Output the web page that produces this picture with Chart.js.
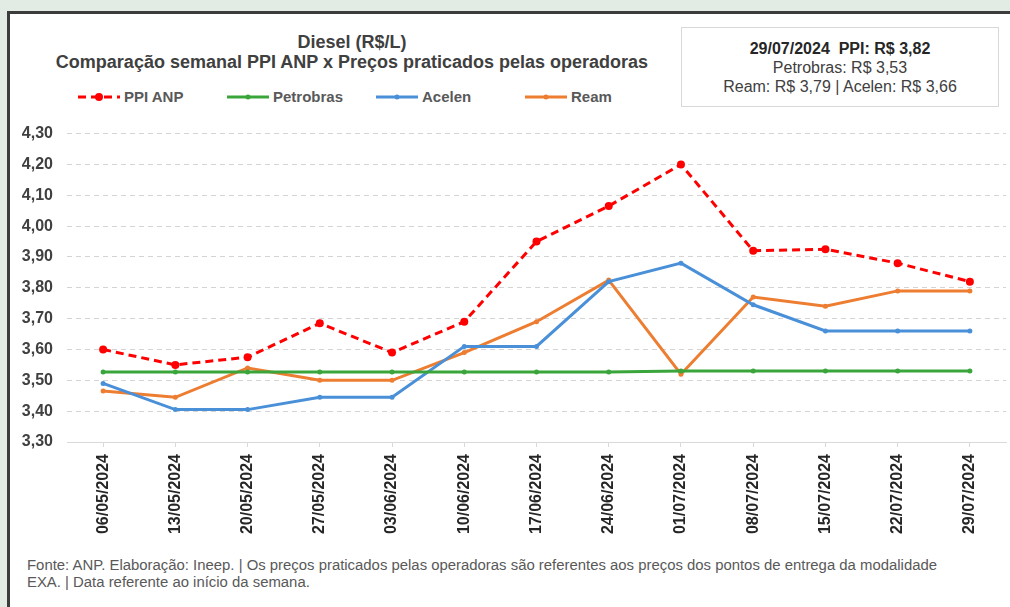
<!DOCTYPE html>
<html>
<head>
<meta charset="utf-8">
<script src="https://cdn.jsdelivr.net/npm/chart.js@4.4.1/dist/chart.umd.min.js"></script>
<style>
  html, body { margin: 0; padding: 0; }
  body { width: 1010px; height: 607px; background: #e2ebe4; position: relative; overflow: hidden;
         font-family: "Liberation Sans", Arial, sans-serif; }
  #panel { position: absolute; left: 7px; top: 11px; right: 0; bottom: 0; background: #fff;
           border-left: 3px solid #3c3c3c; border-top: 3px solid #3c3c3c; }
  #title { position: absolute; left: 52px; top: 32px; width: 600px; text-align: center;
           font-weight: bold; font-size: 18px; line-height: 20px; color: #404040; }
  #info { position: absolute; left: 681px; top: 27px; width: 316px; height: 78px;
          border: 1px solid #d9d9d9; display: flex; flex-direction: column; justify-content: center;
          text-align: center; font-size: 16px; line-height: 19px; color: #404040; }
  #info b { color: #262626; }
  #legend { position: absolute; left: 78px; top: 88px; white-space: nowrap; }
  .item { display: inline-block; width: 149px; font-weight: bold; font-size: 15px; color: #595959;
          line-height: 18px; }
  .item canvas { vertical-align: middle; margin-right: 4px; position: relative; top: -1px; }
  #wrap { position: absolute; left: 10px; top: 110px; width: 1000px; height: 440px; }
  #foot { position: absolute; left: 27px; top: 557px; font-size: 14.9px; line-height: 17px; color: #595959; }
</style>
</head>
<body>
<div id="panel"></div>
<div id="title">Diesel (R$/L)<br>Comparação semanal PPI ANP x Preços praticados pelas operadoras</div>
<div id="info"></div>
<div id="legend"></div>
<div id="wrap"><canvas id="DieselChart"></canvas></div>
<div id="foot">Fonte: ANP. Elaboração: Ineep. | Os preços praticados pelas operadoras são referentes aos preços dos pontos de entrega da modalidade<br>EXA. | Data referente ao início da semana.</div>
<script>
var semanas = ['06/05/2024', '13/05/2024', '20/05/2024', '27/05/2024', '03/06/2024', '10/06/2024', '17/06/2024',
               '24/06/2024', '01/07/2024', '08/07/2024', '15/07/2024', '22/07/2024', '29/07/2024']
var ppiAnp    = [3.60, 3.55, 3.575, 3.685, 3.59, 3.69, 3.95, 4.065, 4.20, 3.92, 3.925, 3.88, 3.82]
var petrobras = [3.527, 3.527, 3.527, 3.527, 3.527, 3.527, 3.527, 3.527, 3.53, 3.53, 3.53, 3.53, 3.53]
var acelen    = [3.49, 3.405, 3.405, 3.445, 3.445, 3.61, 3.61, 3.82, 3.88, 3.745, 3.66, 3.66, 3.66]
var ream      = [3.465, 3.445, 3.54, 3.50, 3.50, 3.59, 3.69, 3.825, 3.52, 3.77, 3.74, 3.79, 3.79]
var yMin = 3.30, yMax = 4.30, yStep = 0.10

function brl(v) { return v.toFixed(2).replace('.', ',') }

var ctx = document.getElementById('DieselChart')

var DieselChart = new Chart(ctx, {
    type: 'line',
    data: {
        labels: semanas,
        datasets: [{
            label: 'PPI ANP',
            data: ppiAnp,
            borderColor: '#ff0000',
            backgroundColor: '#ff0000',
            borderWidth: 3,
            borderDash: [8, 5],
            pointRadius: 4,
            pointBorderWidth: 0
        },
        {
            label: 'Petrobras',
            data: petrobras,
            borderColor: '#3aa53a',
            backgroundColor: '#3aa53a',
            borderWidth: 3,
            pointRadius: 2.5,
            pointBorderWidth: 0
        },
        {
            label: 'Acelen',
            data: acelen,
            borderColor: '#4a90d9',
            backgroundColor: '#4a90d9',
            borderWidth: 3,
            pointRadius: 2.5,
            pointBorderWidth: 0
        },
        {
            label: 'Ream',
            data: ream,
            borderColor: '#ed7d31',
            backgroundColor: '#ed7d31',
            borderWidth: 3,
            pointRadius: 2.5,
            pointBorderWidth: 0
        }]
    },
    options: {
        responsive: true,
        maintainAspectRatio: false,
        animation: false,
        layout: { padding: { top: 18, right: 2, left: 0, bottom: 0 } },
        plugins: {
            legend: { display: false },
            tooltip: { enabled: false }
        },
        scales: {
            x: {
                offset: true,
                afterFit: function (s) { s.height = 108 },
                grid: { drawOnChartArea: false, drawTicks: true, tickLength: 5, color: '#d9d9d9' },
                border: { display: true, color: '#d9d9d9', width: 1 },
                ticks: {
                    minRotation: 90, maxRotation: 90, autoSkip: false, padding: 7,
                    color: '#262626',
                    font: { family: '"Liberation Sans", Arial, sans-serif', size: 16, weight: 'bold' }
                }
            },
            y: {
                min: yMin,
                max: yMax,
                afterFit: function (s) { s.width = 57 },
                grid: {
                    drawTicks: false,
                    color: function (c) { return c.index === 0 ? 'rgba(0,0,0,0)' : '#d4d4d4' }
                },
                border: { display: false, dash: [5, 4] },
                ticks: {
                    stepSize: yStep, padding: 14,
                    color: '#404040',
                    font: { family: '"Liberation Sans", Arial, sans-serif', size: 16, weight: 'bold' },
                    callback: function (v) { return brl(v) }
                }
            }
        }
    }
})

// legend drawn from the datasets
var legend = document.getElementById('legend')
DieselChart.data.datasets.forEach(function (ds) {
    var item = document.createElement('span')
    item.className = 'item'
    var c = document.createElement('canvas')
    c.width = 42; c.height = 12
    var g = c.getContext('2d')
    g.strokeStyle = ds.borderColor
    g.lineWidth = ds.borderWidth
    g.setLineDash(ds.borderDash || [])
    g.beginPath(); g.moveTo(0, 6); g.lineTo(42, 6); g.stroke()
    g.fillStyle = ds.backgroundColor
    g.beginPath(); g.arc(21, 6, ds.pointRadius, 0, Math.PI * 2); g.fill()
    item.appendChild(c)
    item.appendChild(document.createTextNode(ds.label))
    legend.appendChild(item)
})

// latest week box
var last = semanas.length - 1
document.getElementById('info').innerHTML =
    '<div><b>' + semanas[last] + '&nbsp;&nbsp;PPI: R$ ' + brl(ppiAnp[last]) + '</b></div>' +
    '<div>Petrobras: R$ ' + brl(petrobras[last]) + '</div>' +
    '<div>Ream: R$ ' + brl(ream[last]) + ' | Acelen: R$ ' + brl(acelen[last]) + '</div>'
</script>
</body>
</html>
